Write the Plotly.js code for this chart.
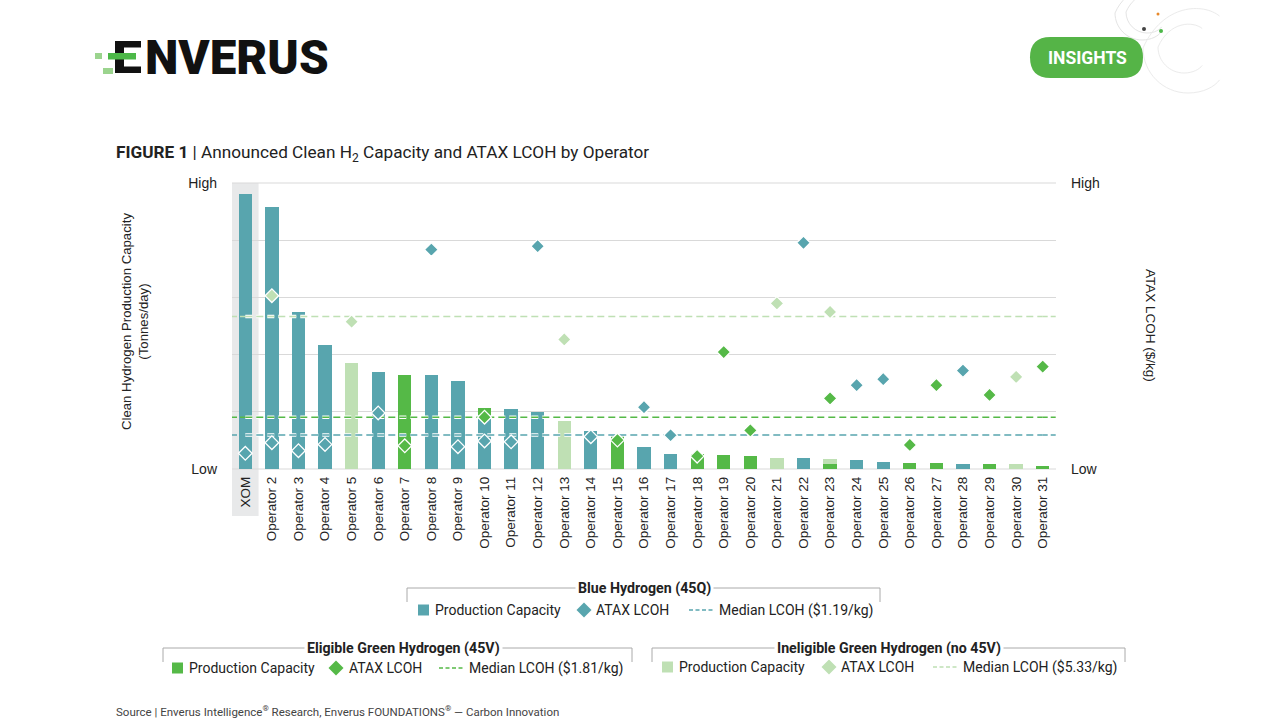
<!DOCTYPE html>
<html>
<head>
<meta charset="utf-8">
<script src="https://cdn.plot.ly/plotly-3.0.1.min.js"></script>
<style>html,body{margin:0;padding:0;background:#fff;}#chart{width:1280px;height:720px;}</style>
</head>
<body>
<div id="chart"></div>
<script>
// ---------- DATA ----------
const categories = ["XOM","Operator 2","Operator 3","Operator 4","Operator 5","Operator 6","Operator 7","Operator 8","Operator 9","Operator 10",
  "Operator 11","Operator 12","Operator 13","Operator 14","Operator 15","Operator 16","Operator 17","Operator 18","Operator 19","Operator 20",
  "Operator 21","Operator 22","Operator 23","Operator 24","Operator 25","Operator 26","Operator 27","Operator 28","Operator 29","Operator 30","Operator 31"];
// Production capacity (relative scale, Low=0 .. High=5)
const blueCapacity = [4.81,4.58,2.74,2.16,null,1.69,null,1.64,1.53,0.94,1.05,0.99,null,0.66,null,0.39,0.27,null,null,null,null,0.19,null,0.15,0.12,null,null,0.09,null,null,null];
const greenCapacity = [null,null,null,null,null,null,1.64,null,null,0.12,null,null,null,null,0.58,null,null,0.26,0.24,0.23,null,null,0.08,null,null,0.10,0.10,null,0.08,null,0.05];
const inelCapacity = [null,null,null,null,1.86,null,null,null,null,null,null,null,0.84,null,null,null,null,null,null,null,0.20,null,0.10,null,null,null,null,null,null,0.08,null];
// ATAX LCOH ($/kg, right axis Low=0 .. High=10)
const blueLCOH = [0.55,0.92,0.64,0.86,null,1.96,null,7.67,0.78,0.98,0.95,7.79,null,1.13,null,2.16,1.18,null,null,null,null,7.91,null,2.93,3.14,null,null,3.44,null,null,null];
const greenLCOH = [null,null,null,null,null,null,0.81,null,null,1.81,null,null,null,null,1.01,null,null,0.45,4.09,1.35,null,null,2.47,null,null,0.84,2.93,null,2.59,null,3.58];
const inelLCOH = [null,6.06,null,null,5.15,null,null,null,null,null,null,null,4.53,null,null,null,null,null,null,null,5.79,null,5.49,null,null,null,null,null,null,3.22,null];
const medianBlue = 1.19, medianGreen = 1.81, medianInel = 5.33;
const leftTicks = ["Low","High"];
const rightTicks = ["Low","High"];

// ---------- STYLE ----------
const TEAL = "#58a5ae", GREEN = "#55b947", LIGHT = "#bfe0b4";
const FONT = "Roboto, 'Liberation Sans', sans-serif";
const AXFONT = "'Liberation Sans', Arial, sans-serif";
const L = 232, R = 1056, T = 183, B = 469;
const px = x => (x - L) / (R - L);
const py = y => (B - y) / (B - T);
const DASH = "7px,4px";

const medians = [[medianBlue,TEAL],[medianGreen,GREEN],[medianInel,LIGHT]];
const traces = [
  {type:"bar", x:categories, y:blueCapacity, marker:{color:TEAL}, yaxis:"y", hoverinfo:"x+y"},
  {type:"bar", x:categories, y:greenCapacity, marker:{color:GREEN}, yaxis:"y", hoverinfo:"x+y"},
  {type:"bar", x:categories, y:inelCapacity, marker:{color:LIGHT}, yaxis:"y", hoverinfo:"x+y"}
];
// median lines as traces (white halo + coloured dash), drawn above bars and below diamonds
medians.forEach(([v,c])=>{
  traces.push({type:"scatter", mode:"lines", x:categories, y:categories.map(()=>v), yaxis:"y2", line:{color:"#ffffff", width:3.5, dash:DASH}, hoverinfo:"skip"});
  traces.push({type:"scatter", mode:"lines", x:categories, y:categories.map(()=>v), yaxis:"y2", line:{color:c, width:1.6, dash:DASH}, hoverinfo:"skip"});
});
traces.push(
  {type:"scatter", mode:"markers", x:categories, y:blueLCOH, yaxis:"y2", marker:{symbol:"diamond", size:10.5, color:TEAL, line:{color:"#fff", width:1.3}}},
  {type:"scatter", mode:"markers", x:categories, y:greenLCOH, yaxis:"y2", marker:{symbol:"diamond", size:10.5, color:GREEN, line:{color:"#fff", width:1.3}}},
  {type:"scatter", mode:"markers", x:categories, y:inelLCOH, yaxis:"y2", marker:{symbol:"diamond", size:10.5, color:LIGHT, line:{color:"#fff", width:1.3}}}
);

const shapes = [];
const annotations = [];
function line(x0,y0,x1,y1,color,width,dash,layer){shapes.push({type:"line",xref:"paper",yref:"paper",x0:px(x0),y0:py(y0),x1:px(x1),y1:py(y1),line:{color:color,width:width||1,dash:dash||"solid"},layer:layer||"above"});}
function rect(x0,y0,x1,y1,color){shapes.push({type:"rect",xref:"paper",yref:"paper",x0:px(x0),y0:py(y0),x1:px(x1),y1:py(y1),fillcolor:color,line:{width:0}});}
function diamond(cx,cy,r,color){shapes.push({type:"path",xref:"paper",yref:"paper",
  path:`M ${px(cx-r)} ${py(cy)} L ${px(cx)} ${py(cy-r)} L ${px(cx+r)} ${py(cy)} L ${px(cx)} ${py(cy+r)} Z`,fillcolor:color,line:{width:0}});}
function dot(cx,cy,r,color){shapes.push({type:"circle",xref:"paper",yref:"paper",x0:px(cx-r),x1:px(cx+r),y0:py(cy+r),y1:py(cy-r),line:{width:0},fillcolor:color});}
function arc(cx,cy,r,color){const k=0.5523*r;
  shapes.push({type:"path",xref:"paper",yref:"paper",line:{color:color,width:1},
    path:`M ${px(cx+0.7*r)} ${py(cy-0.71*r)} C ${px(cx+0.35*r)} ${py(cy-r)} ${px(cx-k)} ${py(cy-r)} ${px(cx-r)} ${py(cy)} C ${px(cx-r)} ${py(cy+k)} ${px(cx-k)} ${py(cy+r)} ${px(cx)} ${py(cy+r)} C ${px(cx+0.35*r)} ${py(cy+r)} ${px(cx+0.6*r)} ${py(cy+0.85*r)} ${px(cx+0.7*r)} ${py(cy+0.71*r)}`});}
function text(x,y,t,size,opts){annotations.push(Object.assign({xref:"paper",yref:"paper",x:px(x),y:py(y),text:t,showarrow:false,xanchor:"left",yanchor:"middle",
  font:{family:FONT,size:size,color:"#222"}},opts||{}));}

// XOM highlight
shapes.push({type:"rect",xref:"x",yref:"paper",x0:-0.5,x1:0.5,y0:py(516),y1:1,fillcolor:"#e8e9ea",line:{width:0},layer:"below"});
// top (High) and bottom (Low) grid lines
line(L,T,R,T,"#d9d9d9",1,"solid","below");
line(L,B,R,B,"#d9d9d9",1,"solid","below");
// extend the median lines to the plot edges (half a category on each side)
medians.forEach(([v,c])=>{
  [[-0.5,0],[categories.length-1,categories.length-0.5]].forEach(([a,b])=>{
    shapes.push({type:"line",xref:"x",yref:"y2",x0:a,x1:b,y0:v,y1:v,line:{color:c,width:1.6,dash:"5px,3px"},layer:"above"});
  });
});

// axis titles
text(135,322,"Clean Hydrogen Production Capacity<br>(Tonnes/day)",13.2,{xanchor:"center",textangle:-90,font:{family:AXFONT,size:13.2,color:"#222"}});
text(1151,325,"ATAX LCOH ($/kg)",13.5,{xanchor:"center",textangle:90,font:{family:AXFONT,size:13.5,color:"#222"}});

// figure title
text(114,154,"<b>FIGURE 1</b> | Announced Clean H<sub>2</sub> Capacity and ATAX LCOH by Operator",17.2);

// logo
rect(95,53,102,59,"#9bd48e");
rect(103,68,113,74,"#9bd48e");
rect(115,41,124,73,"#111");
rect(115,41,141,47.5,"#111");
rect(115,66.5,141,73,"#111");
rect(108,53,136,59.5,"#4cb848");
text(143,58,"NVERUS",47.5,{font:{family:"Roboto, sans-serif",size:47.5,color:"#111",weight:900}});

// INSIGHTS badge + decoration
arc(1142,13,27,"#e4e4e4");
arc(1147,12,21,"#e4e4e4");
arc(1188,48,45,"#ebebeb");
arc(1184,47,26,"#ebebeb");
shapes.push({type:"path",xref:"paper",yref:"paper",fillcolor:"#55b447",line:{width:0},
  path:(function(){const x0=1030,x1=1143,y0=37,y1=78,r=20.5;
    return `M ${px(x0+r)} ${py(y0)} L ${px(x1-r)} ${py(y0)} Q ${px(x1)} ${py(y0)} ${px(x1)} ${py((y0+y1)/2)} Q ${px(x1)} ${py(y1)} ${px(x1-r)} ${py(y1)} L ${px(x0+r)} ${py(y1)} Q ${px(x0)} ${py(y1)} ${px(x0)} ${py((y0+y1)/2)} Q ${px(x0)} ${py(y0)} ${px(x0+r)} ${py(y0)} Z`;})()});
text(1087,58,"<b>INSIGHTS</b>",17.5,{xanchor:"center",font:{family:FONT,size:17.5,color:"#ffffff"}});
dot(1158,14,1.5,"#e8892b");
dot(1144,29,2,"#444");
dot(1161,31,2,"#4cb848");

// ---------- custom legend ----------
function group(xl,xr,y,title,tx){
  line(xl,y,xr,y,"#aaaaaa",1);
  line(xl,y,xl,y+14,"#aaaaaa",1);
  line(xr,y,xr,y+14,"#aaaaaa",1);
  text(tx,y,"<b>"+title+"</b>",14.2,{xanchor:"center",bgcolor:"#ffffff",borderpad:2});
}
function items(y,color,sq,tp,dm,ta,d0,tm,med){
  rect(sq,y-5.5,sq+11,y+5.5,color);
  text(tp,y,"Production Capacity",14);
  diamond(dm,y,7.5,color);
  text(ta,y,"ATAX LCOH",14);
  line(d0,y,d0+24,y,color,1.5,"4px,2.5px");
  text(tm,y,"Median LCOH ("+med+")",14);
}
group(407,880,588,"Blue Hydrogen (45Q)",644);
items(610,TEAL,418,433,584,594,689,717,"$1.19/kg");
group(163,632,648,"Eligible Green Hydrogen (45V)",403);
items(668,GREEN,172,187,336,347,439,467,"$1.81/kg");
group(652,1125,648,"Ineligible Green Hydrogen (no 45V)",889);
items(667,LIGHT,662,677,829,839,933,961,"$5.33/kg");

// source
text(114,711,"Source | Enverus Intelligence<sup>®</sup> Research, Enverus FOUNDATIONS<sup>®</sup> — Carbon Innovation",11.5,{font:{family:FONT,size:11.5,color:"#444"}});

const layout = {
  width:1280, height:720,
  margin:{l:L, r:1280-R, t:T, b:720-B, pad:0},
  paper_bgcolor:"#ffffff", plot_bgcolor:"rgba(0,0,0,0)",
  barmode:"stack", bargap:0.5, showlegend:false,
  font:{family:FONT, color:"#222"},
  xaxis:{type:"category", range:[-0.5,30.5], tickangle:-90, ticks:"", showgrid:false, zeroline:false, showline:false,
         tickfont:{family:AXFONT,size:13.5,color:"#222"}, ticklabelstandoff:4, automargin:false, fixedrange:true},
  yaxis:{range:[0,5], tickvals:[0,5], ticktext:leftTicks, showgrid:true, gridcolor:"#d9d9d9", gridwidth:1,
         minor:{tickmode:"linear", tick0:0, dtick:1, showgrid:true, gridcolor:"#d9d9d9", gridwidth:1, ticks:""},
         zeroline:false, showline:false, ticks:"",
         tickfont:{family:AXFONT,size:14,color:"#222"}, ticklabelstandoff:14, automargin:false, fixedrange:true},
  yaxis2:{range:[0,10], overlaying:"y", side:"right", tickvals:[0,10], ticktext:rightTicks, showgrid:false, zeroline:false,
         showline:false, ticks:"", tickfont:{family:AXFONT,size:14,color:"#222"}, ticklabelstandoff:14, automargin:false, fixedrange:true},
  shapes:shapes, annotations:annotations
};
Plotly.newPlot("chart", traces, layout, {displayModeBar:false, staticPlot:true});
</script>
</body>
</html>
